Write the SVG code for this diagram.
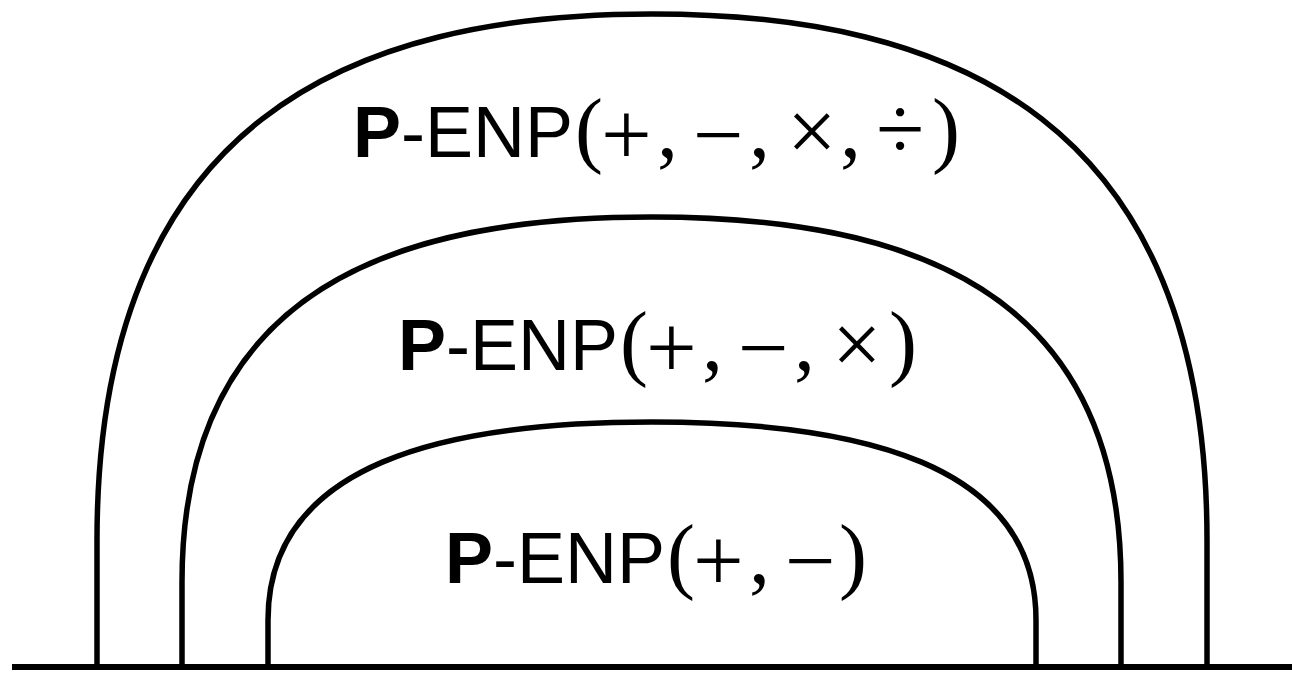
<svg xmlns="http://www.w3.org/2000/svg" width="1292" height="673" viewBox="0 0 1292 673">
<style>
.arch{fill:none;stroke:#000;stroke-width:5.5;stroke-linejoin:round}
.ground{fill:none;stroke:#000;stroke-width:6}
.lbl{font-family:"Liberation Sans",Arial,sans-serif;font-size:72px;fill:#000}
.math{font-family:"Liberation Serif","Times New Roman",serif;font-size:84px;fill:#000}
.op{font-size:90px}
.tm{font-size:88px}
.dv{font-size:88px}
.b{font-weight:bold}
</style>
<rect width="1292" height="673" fill="#fff"/>
<g id="outer">
<path class="arch" d="M97,667 L97,540 C97,119 352,14 652,14 C952,14 1207,119 1207,540 L1207,667"/>
<text class="lbl" x="353" y="157"><tspan class="b">P</tspan>-ENP</text>
<text class="math" y="157"><tspan x="575">(</tspan><tspan class="op" x="601" y="165">+</tspan><tspan x="657" y="157">,</tspan><tspan class="op" x="693" y="165">−</tspan><tspan x="749" y="157">,</tspan><tspan class="tm" x="787" y="161">×</tspan><tspan x="840" y="157">,</tspan><tspan class="dv" x="876" y="159">÷</tspan><tspan x="932" y="157">)</tspan></text>
</g>
<g id="middle">
<path class="arch" d="M182,667 L182,582 C182,287 398,217 651.5,217 C905,217 1121,287 1121,582 L1121,667"/>
<text class="lbl" x="398" y="370"><tspan class="b">P</tspan>-ENP</text>
<text class="math" y="370"><tspan x="620">(</tspan><tspan class="op" x="646" y="378">+</tspan><tspan x="702" y="370">,</tspan><tspan class="op" x="738" y="378">−</tspan><tspan x="794" y="370">,</tspan><tspan class="tm" x="832" y="374">×</tspan><tspan x="889" y="370">)</tspan></text>
</g>
<g id="inner">
<path class="arch" d="M268,667 L268,620 C268,463 445,422 652,422 C859,422 1036,463 1036,620 L1036,667"/>
<text class="lbl" x="445" y="583"><tspan class="b">P</tspan>-ENP</text>
<text class="math" y="583"><tspan x="667">(</tspan><tspan class="op" x="693" y="591">+</tspan><tspan x="749" y="583">,</tspan><tspan class="op" x="785" y="591">−</tspan><tspan x="839" y="583">)</tspan></text>
</g>
<g id="connectors">
<path class="ground" d="M12,667 H1292"/>
</g>
</svg>
